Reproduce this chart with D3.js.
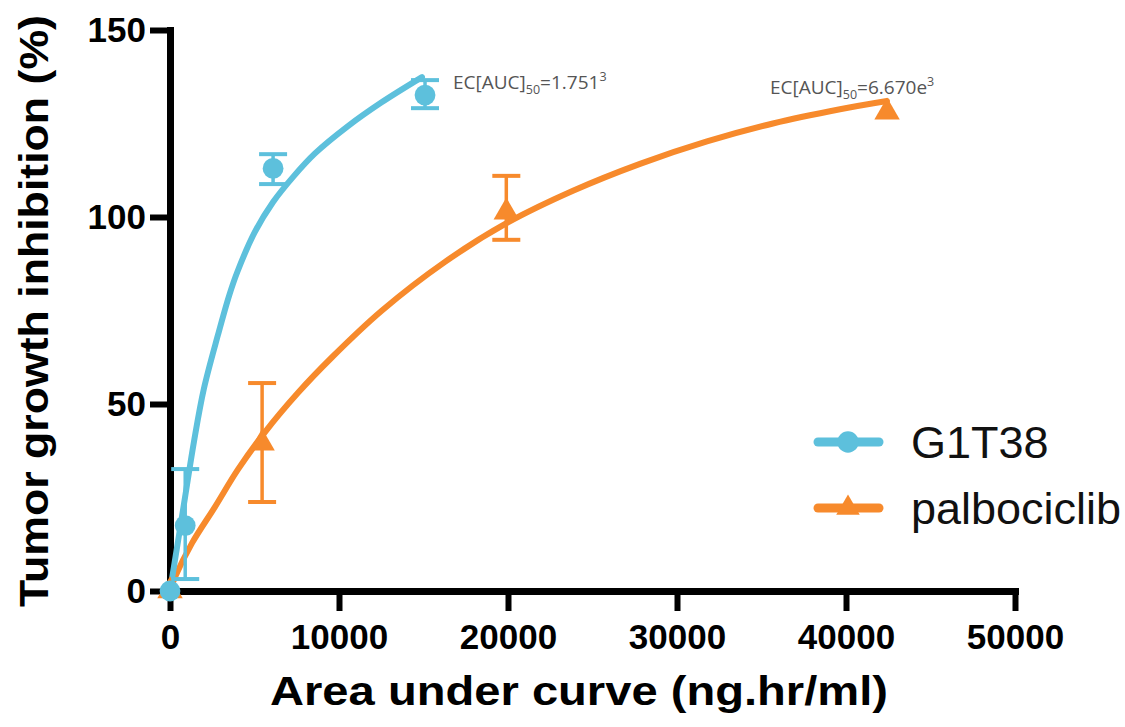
<!DOCTYPE html>
<html>
<head>
<meta charset="utf-8">
<script src="https://cdn.jsdelivr.net/npm/d3@7"></script>
<style>
  html, body { margin: 0; padding: 0; background: #fff; }
  svg { display: block; }
</style>
</head>
<body>
<svg id="chart" width="1125" height="727"></svg>
<script>
  // ---- Data ----
  const xTicks = [0, 10000, 20000, 30000, 40000, 50000];
  const yTicks = [0, 50, 100, 150];

  // G1T38 measured points (mean, error bar low/high)
  const g1X = [0, 900, 6100, 15090];
  const g1Y = [0, 17.5, 113, 132.6];
  const g1Lo = [0, 3.2, 108.8, 129.1];
  const g1Hi = [0, 32.6, 116.8, 136.6];

  // palbociclib measured points
  const paX = [0, 5450, 19900, 42430];
  const paY = [0, 39.5, 101.3, 128];
  const paLo = [0, 23.8, 93.9, 128];
  const paHi = [0, 55.6, 111, 128];

  // fitted curves
  const g1CurveX = [0, 450, 888, 1420, 2000, 2840, 3500, 4000, 5000, 6100, 7300, 8580, 10532, 12500, 14911];
  const g1CurveY = [0, 12.6, 25, 40, 54, 68.5, 79, 85.5, 95.8, 104, 110.8, 117, 124.3, 130.6, 137.4];
  const paCurveX = [0, 296, 1302, 2663, 4024, 5621, 7574, 9586, 12544, 16272, 19940, 23845, 27810, 31774, 35677, 39644, 42425];
  const paCurveY = [0, 3.7, 12.8, 22.5, 32.5, 42.5, 53, 62.5, 75, 88, 98.4, 107, 114.2, 120.2, 125, 128.8, 131];

  const seriesNames = ['G1T38', 'palbociclib'];
  const ecLabels = ['1.751', '6.670e'];

  const BLUE = '#5DC0DC';
  const ORANGE = '#F78A2C';

  const svg = d3.select('#chart');

  const x = d3.scaleLinear().domain([0, 50000]).range([170, 1015]);
  const y = d3.scaleLinear().domain([0, 150]).range([591, 30]);

  // ---- Axes ----
  const xAxis = svg.append('g')
    .attr('transform', 'translate(0,' + y(0) + ')')
    .call(d3.axisBottom(x).tickValues(xTicks).tickSize(20).tickSizeOuter(0).tickPadding(13).tickFormat(d3.format('d')));

  const yAxis = svg.append('g')
    .attr('transform', 'translate(' + x(0) + ',0)')
    .call(d3.axisLeft(y).tickValues(yTicks).tickSize(20).tickSizeOuter(0).tickPadding(4));

  [xAxis, yAxis].forEach(function (ax) {
    ax.select('.domain').attr('stroke', '#000').attr('stroke-width', 7).attr('stroke-linecap', 'square');
    ax.selectAll('.tick line').attr('stroke', '#000').attr('stroke-width', 6);
    ax.selectAll('.tick text')
      .attr('fill', '#000')
      .attr('font-family', "'Liberation Sans', Arial, sans-serif")
      .attr('font-weight', 'bold')
      .attr('font-size', 35);
  });

  // Axis titles
  svg.append('text')
    .attr('x', 579)
    .attr('y', 705)
    .attr('text-anchor', 'middle')
    .attr('font-family', "'Liberation Sans', Arial, sans-serif")
    .attr('font-weight', 'bold')
    .attr('font-size', 40)
    .attr('textLength', 618)
    .attr('lengthAdjust', 'spacingAndGlyphs')
    .text('Area under curve (ng.hr/ml)');

  svg.append('text')
    .attr('transform', 'translate(48,311) rotate(-90)')
    .attr('text-anchor', 'middle')
    .attr('font-family', "'Liberation Sans', Arial, sans-serif")
    .attr('font-weight', 'bold')
    .attr('font-size', 40)
    .attr('textLength', 592)
    .attr('lengthAdjust', 'spacingAndGlyphs')
    .text('Tumor growth inhibition (%)');

  // ---- Curves ----
  const line = d3.line()
    .x(function (d) { return x(d[0]); })
    .y(function (d) { return y(d[1]); })
    .curve(d3.curveCatmullRom.alpha(0.5));

  const curves = [
    { xs: paCurveX, ys: paCurveY, color: ORANGE },
    { xs: g1CurveX, ys: g1CurveY, color: BLUE }
  ];
  curves.forEach(function (c) {
    svg.append('path')
      .datum(c.xs.map(function (v, i) { return [v, c.ys[i]]; }))
      .attr('fill', 'none')
      .attr('stroke', c.color)
      .attr('stroke-width', 6)
      .attr('stroke-linecap', 'round')
      .attr('d', line);
  });

  // ---- Error bars and markers ----
  function drawPoints(xs, ys, lo, hi, color, shape, size) {
    const g = svg.append('g');
    xs.forEach(function (v, i) {
      if (hi[i] - lo[i] > 0.5) {
        const cx = x(v);
        g.append('line')
          .attr('x1', cx).attr('x2', cx)
          .attr('y1', y(lo[i])).attr('y2', y(hi[i]))
          .attr('stroke', color).attr('stroke-width', 3.5);
        [lo[i], hi[i]].forEach(function (e) {
          g.append('line')
            .attr('x1', cx - 14).attr('x2', cx + 14)
            .attr('y1', y(e)).attr('y2', y(e))
            .attr('stroke', color).attr('stroke-width', 4);
        });
      }
      g.append('path')
        .attr('transform', 'translate(' + x(v) + ',' + y(ys[i]) + ')')
        .attr('d', d3.symbol().type(shape).size(size)())
        .attr('fill', color);
    });
  }

  drawPoints(paX, paY, paLo, paHi, ORANGE, d3.symbolTriangle, 280);
  drawPoints(g1X, g1Y, g1Lo, g1Hi, BLUE, d3.symbolCircle, 340);

  // ---- EC50 annotations ----
  function ecText(px, py, val) {
    const t = svg.append('text')
      .attr('x', px).attr('y', py)
      .attr('font-family', "'Open Sans', sans-serif")
      .attr('font-size', 19)
      .attr('fill', '#555');
    t.append('tspan').text('EC[AUC]');
    t.append('tspan').attr('font-size', 12.5).attr('dy', 5).text('50');
    t.append('tspan').attr('dy', -5).text('=' + val);
    t.append('tspan').attr('font-size', 12.5).attr('dy', -8).text('3');
  }
  ecText(453, 89, ecLabels[0]);
  ecText(770, 94, ecLabels[1]);

  // ---- Legend ----
  const legend = [
    { name: seriesNames[0], color: BLUE, shape: d3.symbolCircle, size: 360, y: 442 },
    { name: seriesNames[1], color: ORANGE, shape: d3.symbolTriangle, size: 240, y: 508 }
  ];
  legend.forEach(function (l) {
    svg.append('line')
      .attr('x1', 818).attr('x2', 879)
      .attr('y1', l.y).attr('y2', l.y)
      .attr('stroke', l.color).attr('stroke-width', 9)
      .attr('stroke-linecap', 'round');
    svg.append('path')
      .attr('transform', 'translate(848,' + l.y + ')')
      .attr('d', d3.symbol().type(l.shape).size(l.size)())
      .attr('fill', l.color);
    svg.append('text')
      .attr('x', 911).attr('y', l.y + 16)
      .attr('font-family', "'Liberation Sans', Arial, sans-serif")
      .attr('font-size', 45)
      .attr('fill', '#111')
      .text(l.name);
  });
</script>
</body>
</html>
